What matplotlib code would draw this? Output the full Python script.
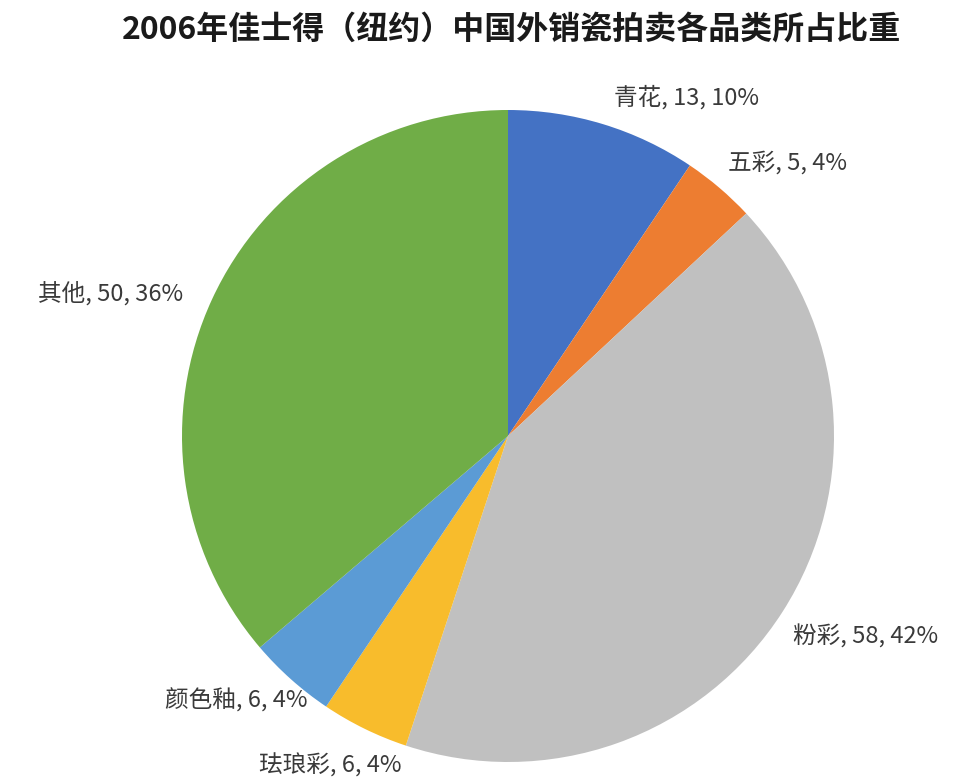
import matplotlib.pyplot as plt

plt.rcParams['font.family'] = ['Noto Sans CJK SC', 'DejaVu Sans']

# data
categories = ['青花', '五彩', '粉彩', '珐琅彩', '颜色釉', '其他']
values = [13, 5, 58, 6, 6, 50]
percent_labels = ['10%', '4%', '42%', '4%', '4%', '36%']
colors = ['#4472C4', '#ED7D31', '#C0C0C0', '#F8BC2C', '#5B9BD5', '#70AD47']

# label anchor points in pixel space (x, y from top)
label_pos = [(686, 97), (787, 163), (866, 637), (330, 766), (236, 700), (111, 293)]

W, H = 978, 780
fig = plt.figure(figsize=(W / 100, H / 100), dpi=100)
ax = fig.add_axes([0, 0, 1, 1])

ax.pie(values, colors=colors, startangle=90, counterclock=False,
       center=(508, H - 436), radius=326, frame=True,
       wedgeprops={'linewidth': 0})
ax.set_xlim(0, W)
ax.set_ylim(0, H)
ax.set_aspect('equal')
ax.axis('off')

for cat, v, p, (x, y) in zip(categories, values, percent_labels, label_pos):
    ax.text(x, H - y, f'{cat}, {v}, {p}', ha='center', va='center',
            fontsize=17, fontweight='medium', color='#3a3a3a')

fig.text(0.523, 1 - 30 / H, '2006年佳士得（纽约）中国外销瓷拍卖各品类所占比重',
         ha='center', va='center', fontsize=23, fontweight='bold', color='#1a1a1a')

fig.savefig('out.png', dpi=100)
